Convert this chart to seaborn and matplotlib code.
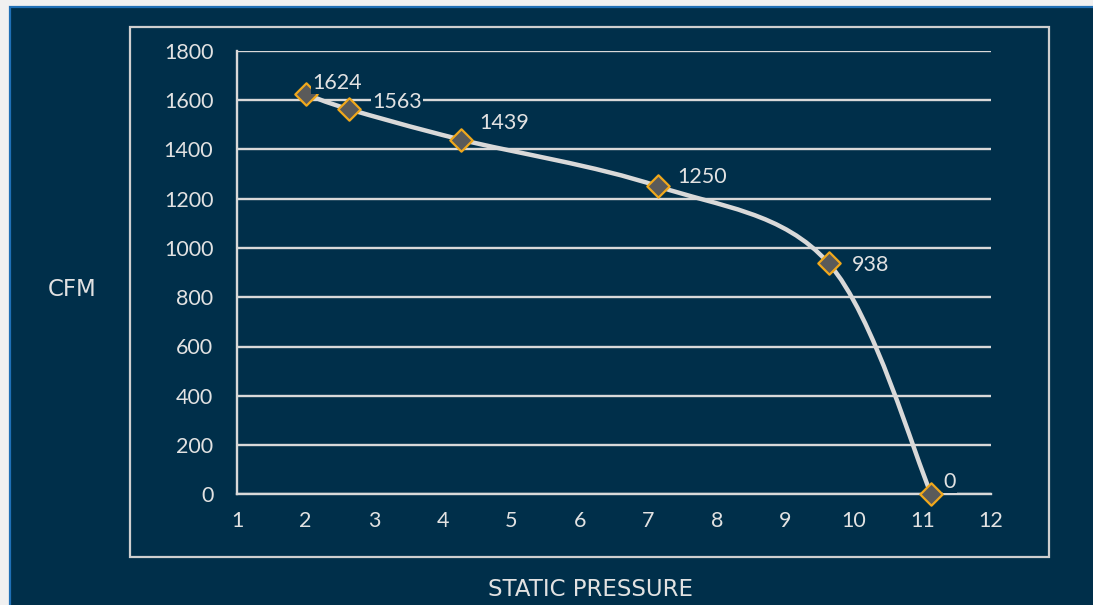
import numpy as np
import matplotlib
matplotlib.use("Agg")
import matplotlib.pyplot as plt
from matplotlib.path import Path
from matplotlib.patches import PathPatch, Rectangle
import seaborn as sns

# DATA
pressure = [2.0, 2.63, 4.27, 7.14, 9.63, 11.13]
cfm = [1624, 1563, 1439, 1250, 938, 0]
x_ticks = list(range(1, 13))
y_ticks = list(range(0, 2000, 200))

# label offsets in points (dx, dy)
label_offsets = [(5, 8), (17, 5), (13, 12), (14, 7), (17, -1), (9, 9)]

NAVY = "#002f4a"
LIGHT = "#d9d9d9"
TEXT = "#e2e2e2"

sns.set_theme(style="white")
plt.rcParams["font.family"] = ["Lato", "DejaVu Sans"]

fig = plt.figure(figsize=(10.93, 6.05), dpi=100, facecolor="#f0f0f0")

# background panel with blue edge
W, H = 1093, 605
fig.patches.append(Rectangle((10 / W, -0.05), 1.1, (H - 7) / H + 0.05,
                             transform=fig.transFigure, facecolor=NAVY,
                             edgecolor="#1f6fb5", linewidth=1.6, zorder=-10))
# chart frame
fig.patches.append(Rectangle((130 / W, 1 - 557 / H), 919 / W, 530 / H,
                             transform=fig.transFigure, facecolor="none",
                             edgecolor="#cfcfcf", linewidth=1.6, zorder=-5))

ax = fig.add_axes([237 / W, 1 - 494.4 / H, (991 - 237) / W, (494.4 - 50.7) / H])
ax.set_facecolor("none")
ax.set_zorder(2)

# smooth curve (Excel style bezier through the points)
pts = np.column_stack([pressure, cfm]).astype(float)
n = len(pts)
verts = [pts[0]]
codes = [Path.MOVETO]
for i in range(n - 1):
    p0 = pts[max(i - 1, 0)]
    p1 = pts[i]
    p2 = pts[i + 1]
    p3 = pts[min(i + 2, n - 1)]
    c1 = p1 + (p2 - p0) / 6
    c2 = p2 - (p3 - p1) / 6
    verts += [c1, c2, p2]
    codes += [Path.CURVE4] * 3
ax.add_patch(PathPatch(Path(verts, codes), facecolor="none", edgecolor=LIGHT,
                       linewidth=3.2, capstyle="round", zorder=3, clip_on=False))

sns.scatterplot(x=pressure, y=cfm, marker="D", s=130, color="#5a5a5a",
                edgecolor="#f0a81c", linewidth=1.6, zorder=4, clip_on=False, ax=ax)

for xv, yv, (dx, dy) in zip(pressure, cfm, label_offsets):
    ax.annotate(str(yv), (xv, yv), xytext=(dx, dy), textcoords="offset points",
                ha="left", va="center", fontsize=15.5, color=TEXT, zorder=5,
                bbox=dict(boxstyle="square,pad=0.05", facecolor=NAVY, edgecolor="none"))

ax.set_xlim(1, 12)
ax.set_ylim(0, 1800)
ax.set_xticks(x_ticks)
ax.set_yticks(y_ticks)
ax.tick_params(axis="x", length=0, pad=12, labelsize=15.5, labelcolor=TEXT)
ax.tick_params(axis="y", length=0, pad=17, labelsize=15.5, labelcolor=TEXT)
ax.yaxis.grid(True, color=LIGHT, linewidth=1.7)
ax.xaxis.grid(False)
ax.set_axisbelow(True)
for side in ["top", "right"]:
    ax.spines[side].set_visible(False)
for side in ["left", "bottom"]:
    ax.spines[side].set_color(LIGHT)
    ax.spines[side].set_linewidth(1.7)
ax.set_xlabel("")
ax.set_ylabel("")

fig.text(72 / W, 1 - 289 / H, "CFM", ha="center", va="center",
         fontsize=16.5, color=TEXT, family="DejaVu Sans")
fig.text(590 / W, 1 - 590 / H, "STATIC PRESSURE", ha="center", va="center",
         fontsize=16.5, color=TEXT, family="DejaVu Sans")

fig.savefig("out.png", dpi=100, facecolor=fig.get_facecolor())
